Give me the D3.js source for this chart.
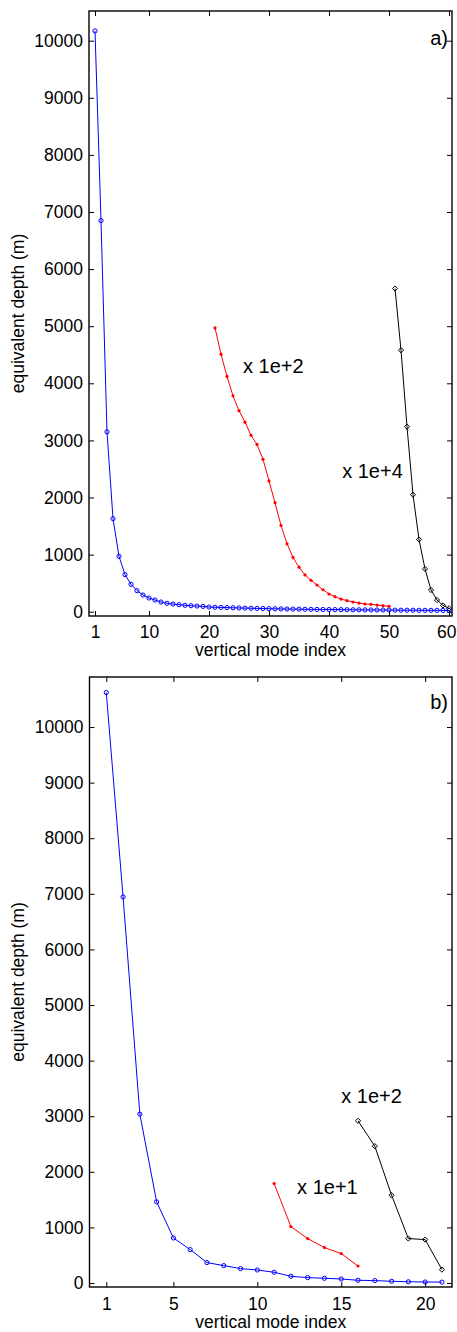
<!DOCTYPE html>
<html>
<head>
<meta charset="utf-8">
<script src="https://cdn.jsdelivr.net/npm/d3@7"></script>
<style>
  html, body { margin: 0; padding: 0; background: #fff; }
  svg { display: block; }
  text { font-family: "Liberation Sans", Arial, Helvetica, sans-serif; fill: #000; }
</style>
</head>
<body>
<svg id="chart" width="457" height="1332"></svg>
<script>
// ---------- DATA ----------
// Panel a)
const aBlueX = [1,2,3,4,5,6,7,8,9,10,11,12,13,14,15,16,17,18,19,20,21,22,23,24,25,26,27,28,29,30,
                31,32,33,34,35,36,37,38,39,40,41,42,43,44,45,46,47,48,49,50,51,52,53,54,55,56,57,58,59,60];
const aBlueY = [10170,6850,3150,1630,970,650,480,368,292,240,205,170,147,135,123,112,105,99,93,82,
                78,75,72,69,66,63,61,58,56,53,51,49,47,46,44,43,41,40,39,38,
                37,36,35,34,33,32,31,30,30,29,28,27,27,26,25,25,24,24,23,22];
const aRedX = [21,22,23,24,25,26,27,28,29,30,31,32,33,34,35,36,37,38,39,40,41,42,43,44,45,46,47,48,49,50];
const aRedY = [4970,4510,4120,3780,3520,3320,3090,2930,2670,2290,1910,1510,1190,950,780,645,550,468,385,310,
               263,222,193,170,152,135,130,117,105,95];
const aBlackX = [51,52,53,54,55,56,57,58,59,60];
const aBlackY = [5660,4580,3240,2050,1265,750,380,205,110,60];
const aXTicks = [1,10,20,30,40,50,60];

// Panel b)
const bBlueX = [1,2,3,4,5,6,7,8,9,10,11,12,13,14,15,16,17,18,19,20,21];
const bBlueY = [10620,6945,3037,1459,810,601,367,313,259,234,193,121,97,85,72,49,43,31,22,18,16];
const bRedX = [11,12,13,14,15,16];
const bRedY = [1790,1015,799,637,529,306];
const bBlackX = [16,17,18,19,20,21];
const bBlackY = [2917,2461,1579,799,781,241];
const bXTicks = [1,5,10,15,20];

const yTicks = [0,1000,2000,3000,4000,5000,6000,7000,8000,9000,10000];

const xLabel = "vertical mode index";
const yLabel = "equivalent depth (m)";

// ---------- DRAW ----------
const svg = d3.select("#chart");

function zip(xs, ys) { return xs.map((x, i) => ({x: x, y: ys[i]})); }

function panel(cfg) {
  const g = svg.append("g");
  const x = d3.scaleLinear().domain(cfg.xDomain).range([cfg.left, cfg.right]);
  const y = d3.scaleLinear().domain(cfg.yDomain).range([cfg.bottom, cfg.top]);
  const tl = 5;

  const axB = d3.axisBottom(x).tickValues(cfg.xTicks).tickSize(-tl).tickPadding(0).tickFormat(d3.format("d"));
  const axT = d3.axisTop(x).tickValues(cfg.xTicks).tickSize(-tl).tickFormat("");
  const axL = d3.axisLeft(y).tickValues(yTicks).tickSize(-tl).tickPadding(6).tickFormat(d3.format("d"));
  const axR = d3.axisRight(y).tickValues(yTicks).tickSize(-tl).tickFormat("");

  const gb = g.append("g").attr("transform", `translate(0,${cfg.bottom})`).call(axB);
  gb.selectAll("text").attr("dy", null).attr("y", cfg.tickLabelOffset).style("font-size", "17.5px")
    .attr("dx", (d, i, n) => {
      // keep the last label inside the page edge
      const w = n[i].getComputedTextLength();
      const over = x(d) + w / 2 - 456;
      return over > 0 ? -over : 0;
    });
  g.append("g").attr("transform", `translate(0,${cfg.top})`).call(axT);
  const gl = g.append("g").attr("transform", `translate(${cfg.left},0)`).call(axL);
  gl.selectAll("text").style("font-size", "17.5px");
  g.append("g").attr("transform", `translate(${cfg.right},0)`).call(axR);
  g.selectAll(".domain").remove();
  g.selectAll(".tick line").attr("stroke", "#000").attr("stroke-width", 1);

  g.append("rect").attr("x", cfg.left).attr("y", cfg.top)
    .attr("width", cfg.right - cfg.left).attr("height", cfg.bottom - cfg.top)
    .attr("fill", "none").attr("stroke", "#000").attr("stroke-width", 1.4);

  const line = d3.line().x(d => x(d.x)).y(d => y(d.y));

  cfg.series.forEach(s => {
    const data = zip(s.xs, s.ys);
    g.append("path").datum(data).attr("d", line)
      .attr("fill", "none").attr("stroke", s.color).attr("stroke-width", 1);
    const m = g.append("g").selectAll("g").data(data).join("g")
      .attr("transform", d => `translate(${x(d.x)},${y(d.y)})`);
    if (s.marker === "circle") {
      m.append("circle").attr("r", 2.1).attr("fill", "none").attr("stroke", s.color).attr("stroke-width", 1);
    } else if (s.marker === "dot") {
      m.append("circle").attr("r", 1.6).attr("fill", s.color);
    } else if (s.marker === "diamond") {
      m.append("path").attr("d", "M0,-2.6L2.6,0L0,2.6L-2.6,0Z")
        .attr("fill", "none").attr("stroke", s.color).attr("stroke-width", 1);
    }
  });

  cfg.notes.forEach(n => {
    g.append("text").attr("x", x(n.x)).attr("y", y(n.y))
      .attr("text-anchor", "start")
      .style("font-size", "20px").text(n.text);
  });

  g.append("text").attr("x", cfg.right - 4).attr("y", cfg.top + cfg.letterDy)
    .attr("text-anchor", "end").style("font-size", "20px").text(cfg.letter);

  g.append("text").attr("x", (cfg.left + cfg.right) / 2).attr("y", cfg.bottom + cfg.xLabelOffset)
    .attr("text-anchor", "middle").style("font-size", "17.5px").text(xLabel);
  g.append("text")
    .attr("transform", `translate(${cfg.yLabelX},${(cfg.top + cfg.bottom) / 2}) rotate(-90)`)
    .attr("text-anchor", "middle").style("font-size", "17.5px").text(yLabel);
}

panel({
  left: 89, right: 452, top: 11, bottom: 616,
  xDomain: [0, 60.5], yDomain: [-75, 10520],
  xTicks: aXTicks, tickLabelOffset: 22, xLabelOffset: 40, yLabelX: 24, letter: "a)", letterDy: 34,
  series: [
    {xs: aBlueX, ys: aBlueY, color: "#0000ff", marker: "circle"},
    {xs: aRedX, ys: aRedY, color: "#ff0000", marker: "dot"},
    {xs: aBlackX, ys: aBlackY, color: "#000000", marker: "diamond"}
  ],
  notes: [
    {x: 25.67, y: 4180, text: "x 1e+2"},
    {x: 42.2, y: 2340, text: "x 1e+4"}
  ]
});

panel({
  left: 89.5, right: 452, top: 677, bottom: 1287,
  xDomain: [0, 21.6], yDomain: [-72, 10900],
  xTicks: bXTicks, tickLabelOffset: 23, xLabelOffset: 41, yLabelX: 24, letter: "b)", letterDy: 32,
  series: [
    {xs: bBlueX, ys: bBlueY, color: "#0000ff", marker: "circle"},
    {xs: bRedX, ys: bRedY, color: "#ff0000", marker: "dot"},
    {xs: bBlackX, ys: bBlackY, color: "#000000", marker: "diamond"}
  ],
  notes: [
    {x: 12.37, y: 1600, text: "x 1e+1"},
    {x: 15.0, y: 3240, text: "x 1e+2"}
  ]
});
</script>
</body>
</html>
